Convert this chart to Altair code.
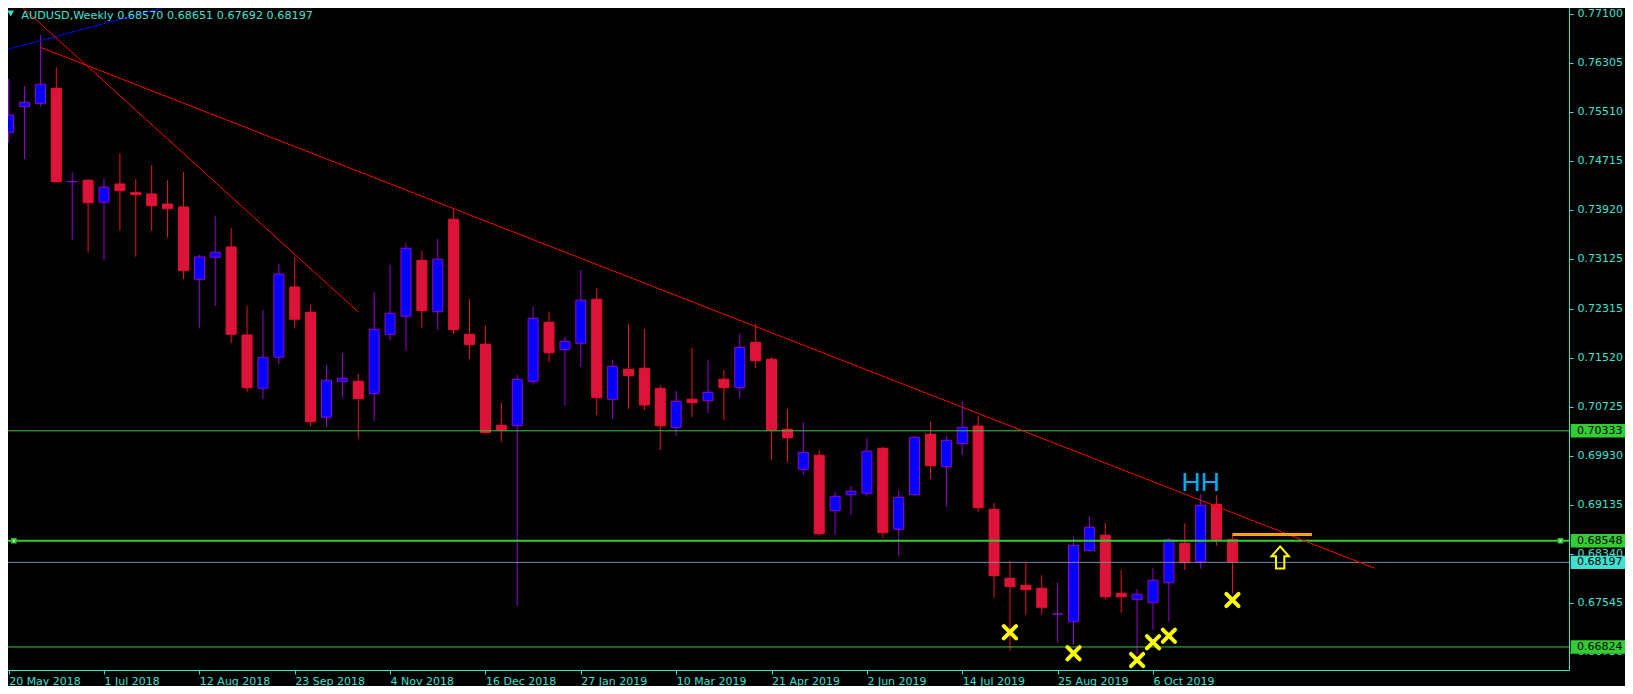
import altair as alt
import pandas as pd

# ---------------- data ----------------
opens = [0.75179, 0.75595, 0.75650, 0.75894, 0.74377, 0.74400, 0.74043, 0.74340, 0.74199, 0.74178,
         0.74015, 0.73967, 0.72793, 0.73150, 0.73317, 0.71889, 0.71023, 0.71527, 0.72668, 0.72257,
         0.70553, 0.71137, 0.71137, 0.70936, 0.71900, 0.72192, 0.73101, 0.72267, 0.73767, 0.71900,
         0.71738, 0.70423, 0.70416, 0.71137, 0.72095, 0.71650, 0.71754, 0.72468, 0.70845, 0.71332,
         0.71348, 0.71023, 0.70384, 0.70845, 0.70822, 0.71169, 0.71033, 0.71770, 0.71494, 0.70358,
         0.69708, 0.69936, 0.69036, 0.69296, 0.69319, 0.70049, 0.68734, 0.69296, 0.70277, 0.69751,
         0.70124, 0.70411, 0.69059, 0.67939, 0.67825, 0.67777, 0.67359, 0.67234, 0.68387, 0.68637,
         0.67695, 0.67598, 0.67549, 0.67867, 0.68507, 0.68208, 0.69140, 0.68570]
highs = [0.76045, 0.75931, 0.76759, 0.76234, 0.74530, 0.74421, 0.74432, 0.74838, 0.74421, 0.74648,
         0.74405, 0.74535, 0.73187, 0.73821, 0.73626, 0.72364, 0.72295, 0.73041, 0.73155, 0.72376,
         0.71402, 0.71592, 0.71256, 0.72582, 0.73025, 0.73377, 0.73252, 0.73447, 0.73946, 0.72473,
         0.72035, 0.70785, 0.71239, 0.72343, 0.72262, 0.71856, 0.72944, 0.72652, 0.71483, 0.72067,
         0.71986, 0.71077, 0.70980, 0.71678, 0.71483, 0.71320, 0.71921, 0.72067, 0.71532, 0.70687,
         0.70476, 0.70022, 0.69340, 0.69437, 0.70217, 0.70070, 0.69368, 0.70249, 0.70476, 0.70249,
         0.70817, 0.70574, 0.69161, 0.68215, 0.68187, 0.67988, 0.67874, 0.68621, 0.68950, 0.68837,
         0.68074, 0.67765, 0.68106, 0.68593, 0.68832, 0.69307, 0.69286, 0.68651]
lows = [0.75010, 0.74746, 0.75595, 0.74364, 0.73436, 0.73225, 0.73095, 0.73582, 0.73160, 0.73582,
        0.73468, 0.72793, 0.72007, 0.72364, 0.71754, 0.70968, 0.70845, 0.71413, 0.72007, 0.70411,
        0.70395, 0.70871, 0.70205, 0.70497, 0.71807, 0.71634, 0.72007, 0.71970, 0.71910, 0.71499,
        0.70290, 0.70156, 0.67494, 0.71082, 0.71450, 0.70736, 0.71369, 0.70590, 0.70525, 0.70687,
        0.70671, 0.70022, 0.70249, 0.70557, 0.70622, 0.70509, 0.70866, 0.71353, 0.69859, 0.69827,
        0.69616, 0.68630, 0.68642, 0.68967, 0.69264, 0.68598, 0.68301, 0.69280, 0.69551, 0.69096,
        0.69941, 0.69015, 0.67624, 0.66764, 0.67348, 0.67348, 0.66893, 0.66856, 0.68371, 0.67591,
        0.67380, 0.66694, 0.67100, 0.67234, 0.68074, 0.68095, 0.68468, 0.67692]
closes = [0.75460, 0.75666, 0.75959, 0.74377, 0.74379, 0.74036, 0.74286, 0.74231, 0.74166, 0.73988,
          0.73939, 0.72933, 0.73155, 0.73231, 0.71900, 0.71033, 0.71527, 0.72879, 0.72144, 0.70481,
          0.71153, 0.71186, 0.70855, 0.71981, 0.72241, 0.73296, 0.72283, 0.73118, 0.71975, 0.71731,
          0.70303, 0.70346, 0.71169, 0.72160, 0.71601, 0.71786, 0.72452, 0.70871, 0.71381, 0.71228,
          0.70752, 0.70416, 0.70812, 0.70790, 0.70958, 0.71033, 0.71689, 0.71471, 0.70346, 0.70221,
          0.69984, 0.68663, 0.69270, 0.69351, 0.70001, 0.68679, 0.69254, 0.70228, 0.69767, 0.70179,
          0.70390, 0.69085, 0.67981, 0.67803, 0.67754, 0.67468, 0.67361, 0.68475, 0.68767, 0.67640,
          0.67640, 0.67679, 0.67906, 0.68561, 0.68192, 0.69124, 0.68572, 0.68197]

date_tick_index = [0, 6, 12, 18, 24, 30, 36, 42, 48, 54, 60, 66, 72]
date_labels = ["20 May 2018", "1 Jul 2018", "12 Aug 2018", "23 Sep 2018", "4 Nov 2018",
               "16 Dec 2018", "27 Jan 2019", "10 Mar 2019", "21 Apr 2019", "2 Jun 2019",
               "14 Jul 2019", "25 Aug 2019", "6 Oct 2019"]
price_ticks = [0.77100, 0.76305, 0.75510, 0.74715, 0.73920, 0.73125, 0.72315, 0.71520,
               0.70725, 0.69930, 0.69135, 0.68340, 0.67545, 0.66750]

level_prices = [0.70333, 0.68548, 0.68197, 0.66824]
level_labels = ["0.70333", "0.68548", "0.68197", "0.66824"]
level_colors = ["#32CD32", "#32CD32", "#778899", "#32CD32"]
level_widths = [1, 2, 1, 1]
level_box_colors = ["#32CD32", "#32CD32", "#40E0D0", "#32CD32"]

# trend lines: (index, price) end points
trend_main_k = [2.0, 85.96]
trend_main_p = [0.76559, 0.68101]
trend_steep_k = [0.544, 21.98]
trend_steep_p = [0.77283, 0.72267]
trend_blue_k = [-0.5, 12.0]
trend_blue_p = [0.76495, 0.77358]

orange_k = [77, 82]
orange_p = 0.68651
arrow_k = [80]
arrow_p = [0.68277]
xmark_k = [63, 67, 71, 72, 73, 77]
xmark_p = [0.67062, 0.66721, 0.66613, 0.66900, 0.67007, 0.67587]
hh_k = [75]
hh_p = [0.69361]
title_text = "AUDUSD,Weekly  0.68570 0.68651 0.67692 0.68197"

# ---------------- styling ----------------
TURQ = "#40E0D0"
BULL_FILL = "#0000FF"
BULL_LINE = "#9400D3"
BEAR_FILL = "#DC143C"
BEAR_LINE = "#F0102A"
FONT = "DejaVu Sans"

X_MIN, X_MAX = -0.04, 97.86
Y_MIN, Y_MAX = 0.66450, 0.77278
W, H = 1566, 667

df = pd.DataFrame({"k": list(range(len(opens))), "o": opens, "h": highs, "l": lows, "c": closes})
df["dir"] = ["up" if c >= o else "down" for o, c in zip(df.o, df.c)]

xs = alt.Scale(domain=[X_MIN, X_MAX], nice=False, zero=False)
ys = alt.Scale(domain=[Y_MIN, Y_MAX], nice=False, zero=False)

label_expr = "[" + ",".join("'" + s + "'" for s in date_labels) + "][round(datum.value/6)]"
x_axis = alt.Axis(values=date_tick_index, labelExpr=label_expr, orient="bottom", title=None,
                  grid=False, domain=False, ticks=True, tickSize=4, tickColor=TURQ,
                  labelAlign="left", labelBaseline="top", labelPadding=1, labelFlush=False,
                  labelOverlap=False, labelColor=TURQ, labelFont=FONT, labelFontSize=11)
y_axis = alt.Axis(values=price_ticks, format=".5f", orient="right", title=None, grid=False,
                  domain=False, ticks=True, tickSize=4, tickColor=TURQ, labelPadding=4,
                  labelAlign="left", labelBaseline="middle", labelOverlap=False, labelFlush=False,
                  labelColor=TURQ, labelFont=FONT, labelFontSize=11)

dir_line = alt.Scale(domain=["up", "down"], range=[BULL_LINE, BEAR_LINE])
dir_fill = alt.Scale(domain=["up", "down"], range=[BULL_FILL, BEAR_FILL])

base = alt.Chart(df)
wicks = base.mark_rule(strokeWidth=1).encode(
    x=alt.X("k:Q", scale=xs, axis=x_axis),
    y=alt.Y("l:Q", scale=ys, axis=y_axis),
    y2="h:Q",
    color=alt.Color("dir:N", scale=dir_line, legend=None),
)
bodies = base.mark_bar(size=10, strokeWidth=1).encode(
    x=alt.X("k:Q", scale=xs),
    y=alt.Y("o:Q", scale=ys),
    y2="c:Q",
    fill=alt.Fill("dir:N", scale=dir_fill, legend=None),
    stroke=alt.Stroke("dir:N", scale=dir_line, legend=None),
)

levels_df = pd.DataFrame({"p": level_prices, "lab": level_labels, "col": level_colors,
                          "w": level_widths, "box": level_box_colors})
levels = alt.Chart(levels_df).mark_rule().encode(
    y=alt.Y("p:Q", scale=ys),
    color=alt.Color("col:N", scale=None),
    strokeWidth=alt.StrokeWidth("w:Q", scale=None),
)

sq_df = pd.DataFrame({"k": [0.33, 97.64], "p": [level_prices[1]] * 2})
squares = alt.Chart(sq_df).mark_square(size=30, color="#32CD32", opacity=1).encode(
    x=alt.X("k:Q", scale=xs), y=alt.Y("p:Q", scale=ys))
squares_in = alt.Chart(sq_df).mark_square(size=3, color="#FFFFFF", opacity=1).encode(
    x=alt.X("k:Q", scale=xs), y=alt.Y("p:Q", scale=ys))

trend_df = pd.DataFrame({
    "k": trend_main_k + trend_steep_k + trend_blue_k,
    "p": trend_main_p + trend_steep_p + trend_blue_p,
    "seg": ["main", "main", "steep", "steep", "blue", "blue"],
    "col": ["#FF0000", "#FF0000", "#FF0000", "#FF0000", "#0000FF", "#0000FF"],
})
trends = alt.Chart(trend_df).mark_line(strokeWidth=1, clip=True).encode(
    x=alt.X("k:Q", scale=xs), y=alt.Y("p:Q", scale=ys),
    detail="seg:N", color=alt.Color("col:N", scale=None),
)

orange_df = pd.DataFrame({"k": [orange_k[0]], "k2": [orange_k[1]], "p": [orange_p]})
orange = alt.Chart(orange_df).mark_rule(strokeWidth=3, color="#FFA500").encode(
    x=alt.X("k:Q", scale=xs), x2="k2:Q", y=alt.Y("p:Q", scale=ys))

arrow_df = pd.DataFrame({"k": arrow_k, "p": arrow_p})
arrow = alt.Chart(arrow_df).mark_point(
    shape="M0,-1L0.79,-0.1L0.38,-0.1L0.38,1L-0.38,1L-0.38,-0.1L-0.79,-0.1Z",
    size=484, filled=False, stroke="#FFFF00", strokeWidth=2, opacity=1,
).encode(x=alt.X("k:Q", scale=xs), y=alt.Y("p:Q", scale=ys))

xm_df = pd.DataFrame({"k": xmark_k, "p": xmark_p})
xmarks = alt.Chart(xm_df).mark_point(
    shape="M-1,-1L1,1M1,-1L-1,1", size=150, filled=False, stroke="#FFFF00",
    strokeWidth=4, strokeCap="round", opacity=1,
).encode(x=alt.X("k:Q", scale=xs), y=alt.Y("p:Q", scale=ys))

hh_df = pd.DataFrame({"k": hh_k, "p": hh_p, "t": ["HH"]})
hh = alt.Chart(hh_df).mark_text(font="Liberation Sans", fontSize=26.5, color="#00AEEF",
                                align="center", baseline="alphabetic").encode(
    x=alt.X("k:Q", scale=xs), y=alt.Y("p:Q", scale=ys), text="t:N")

title_df = pd.DataFrame({"t": [title_text]})
title = alt.Chart(title_df).mark_text(font=FONT, fontSize=11.2, color=TURQ, align="left",
                                      baseline="alphabetic").encode(
    x=alt.value(18.3), y=alt.value(15.5), text="t:N")
tri = alt.Chart(title_df).mark_point(shape="triangle-down", size=45, filled=True, color=TURQ,
                                     opacity=1).encode(x=alt.value(7.7), y=alt.value(10.5))

boxes = alt.Chart(levels_df).mark_point(shape="M-1,-0.24H1V0.24H-1Z", size=56 * 56, filled=True,
                                        opacity=1, strokeWidth=0).encode(
    x=alt.value(1595.7), y=alt.Y("p:Q", scale=ys), color=alt.Color("box:N", scale=None))
box_text = alt.Chart(levels_df).mark_text(font=FONT, fontSize=11, color="#000000", align="left",
                                          baseline="middle").encode(
    x=alt.value(1574), y=alt.Y("p:Q", scale=ys), text="lab:N")

chart = alt.layer(
    wicks, bodies, levels, squares, squares_in, trends, orange, arrow, xmarks, hh,
    title, tri, boxes, box_text,
).properties(
    width=W, height=H,
    autosize=alt.AutoSizeParams(type="none"),
    padding={"left": -5, "top": -5, "right": 56, "bottom": 16},
    background="#000000",
).configure_view(
    stroke=TURQ, strokeWidth=1, fill="#000000",
)

chart.save("out.html", embed_options={"renderer": "svg", "actions": False})
